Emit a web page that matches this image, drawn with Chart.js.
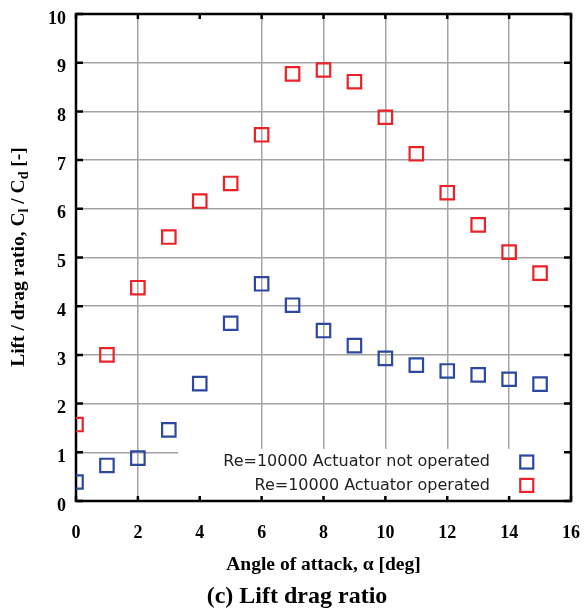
<!DOCTYPE html>
<html><head><meta charset="utf-8">
<script src="https://cdn.jsdelivr.net/npm/chart.js@4/dist/chart.umd.min.js"></script>
<style>html,body{margin:0;padding:0;background:#fff}#wrap{width:586px;height:608px;position:relative}</style>
</head><body><div id="wrap"><canvas id="c" width="586" height="608"></canvas></div>
<script>
// ---- data ----
const angles = [0,1,2,3,4,5,6,7,8,9,10,11,12,13,14,15];
const ratioNotOperated = [0.39,0.73,0.88,1.46,2.41,3.65,4.46,4.02,3.50,3.19,2.93,2.79,2.67,2.59,2.50,2.40];
const ratioOperated    = [1.57,3.00,4.38,5.42,6.16,6.52,7.52,8.77,8.85,8.61,7.88,7.13,6.33,5.67,5.11,4.68];
const xTickValues = [0,2,4,6,8,10,12,14,16];
const yTickValues = [0,1,2,3,4,5,6,7,8,9,10];
const seriesLabels = ["Re=10000 Actuator not operated","Re=10000 Actuator operated"];
const xTitle = "Angle of attack, \u03b1 [deg]";
const yTitleParts = [["Lift / drag ratio, C",0],["l",1],[" / C",0],["d",1],[" [-]",0]];
const caption = "(c) Lift drag ratio";

const BLUE = 'rgb(44,72,160)';
const RED = 'rgb(236,34,40)';
const GRID = '#a3a3a3';

const decor = {
  id: 'decor',
  beforeDatasetsDraw(chart) {
    const {ctx, chartArea: a, scales: {x, y}} = chart;
    ctx.save();
    const lx = x.getPixelForValue(3.3), ly = y.getPixelForValue(1.07);
    ctx.fillStyle = '#fff';
    ctx.fillRect(lx, ly, a.right - lx, a.bottom - ly);
    ctx.strokeStyle = '#000';
    ctx.lineWidth = 2.5;
    ctx.strokeRect(a.left, a.top, a.right - a.left, a.bottom - a.top);
    ctx.beginPath();
    yTickValues.forEach(v => {
      const py = y.getPixelForValue(v);
      ctx.moveTo(a.left, py); ctx.lineTo(a.left + 7, py);
      ctx.moveTo(a.right, py); ctx.lineTo(a.right - 7, py);
    });
    xTickValues.forEach(v => {
      const px = x.getPixelForValue(v);
      ctx.moveTo(px, a.top); ctx.lineTo(px, a.top + 5);
      ctx.moveTo(px, a.bottom); ctx.lineTo(px, a.bottom - 5);
    });
    ctx.stroke();
    ctx.restore();
  },
  afterDatasetsDraw(chart) {
    const {ctx, chartArea: a, scales: {x, y}} = chart;
    ctx.save();
    const colors = [BLUE, RED];
    const ys = [0.80, 0.32];
    ctx.font = '16px "DejaVu Sans", sans-serif';
    ctx.textAlign = 'right';
    ctx.textBaseline = 'middle';
    seriesLabels.forEach((t, i) => {
      const py = y.getPixelForValue(ys[i]);
      ctx.fillStyle = '#222';
      ctx.fillText(t, 490, py);
      ctx.strokeStyle = colors[i];
      ctx.lineWidth = 2.2;
      const mx = x.getPixelForValue(14.57);
      ctx.strokeRect(mx - 6.5, py - 6.5, 13, 13);
    });
    ctx.fillStyle = '#000';
    ctx.textAlign = 'center';
    ctx.font = 'bold 19.5px "Liberation Serif", serif';
    ctx.fillText(xTitle, (a.left + a.right) / 2, 565);
    ctx.font = 'bold 24px "Liberation Serif", serif';
    ctx.fillText(caption, 297, 597);
    const fMain = 'bold 19.5px "Liberation Serif", serif';
    const fSub = 'bold 14px "Liberation Serif", serif';
    let total = 0;
    const widths = yTitleParts.map(([s, sub]) => { ctx.font = sub ? fSub : fMain; const w = ctx.measureText(s).width; total += w; return w; });
    ctx.translate(19, 257);
    ctx.rotate(-Math.PI / 2);
    ctx.textAlign = 'left';
    ctx.textBaseline = 'middle';
    let cx = -total / 2;
    yTitleParts.forEach(([s, sub], i) => {
      ctx.font = sub ? fSub : fMain;
      ctx.fillText(s, cx, sub ? 5 : 0);
      cx += widths[i];
    });
    ctx.restore();
  }
};

const ptsA = angles.map((a, i) => ({x: a, y: ratioNotOperated[i]}));
const ptsB = angles.map((a, i) => ({x: a, y: ratioOperated[i]}));

function noPad(s) { s.paddingLeft = 0; s.paddingRight = 0; s.paddingTop = 0; s.paddingBottom = 0; }

new Chart(document.getElementById('c'), {
  type: 'scatter',
  data: {
    datasets: [
      {label: seriesLabels[0], data: ptsA, borderColor: BLUE, backgroundColor: 'rgba(0,0,0,0)', pointStyle: 'rect', pointRadius: 9.5, pointHoverRadius: 9.5, pointBorderWidth: 2.2},
      {label: seriesLabels[1], data: ptsB, borderColor: RED, backgroundColor: 'rgba(0,0,0,0)', pointStyle: 'rect', pointRadius: 9.5, pointHoverRadius: 9.5, pointBorderWidth: 2.2}
    ]
  },
  options: {
    responsive: false,
    devicePixelRatio: 1,
    animation: false,
    layout: {padding: {top: 14, right: 15, left: 0, bottom: 0}},
    plugins: {legend: {display: false}, tooltip: {enabled: false}},
    scales: {
      x: {
        type: 'linear', min: 0, max: 16,
        afterBuildTicks: s => { s.ticks = xTickValues.map(v => ({value: v})); },
        afterFit: s => { s.height = 107; noPad(s); },
        border: {display: false},
        grid: {
          drawTicks: false, lineWidth: 1.5,
          color: c => (c.tick && [2,6,8,10,12,14].includes(c.tick.value)) ? GRID : 'rgba(0,0,0,0)'
        },
        ticks: {padding: 22, color: '#000', font: {family: '"Liberation Serif", serif', weight: 'bold', size: 18}, maxRotation: 0}
      },
      y: {
        type: 'linear', min: 0, max: 10,
        afterBuildTicks: s => { s.ticks = yTickValues.map(v => ({value: v})); },
        afterFit: s => { s.width = 76; noPad(s); },
        border: {display: false},
        grid: {drawTicks: false, lineWidth: 1.5, color: GRID},
        ticks: {padding: 10, labelOffset: 5, color: '#000', font: {family: '"Liberation Serif", serif', weight: 'bold', size: 18}}
      }
    }
  },
  plugins: [decor]
});
</script>
</body></html>
